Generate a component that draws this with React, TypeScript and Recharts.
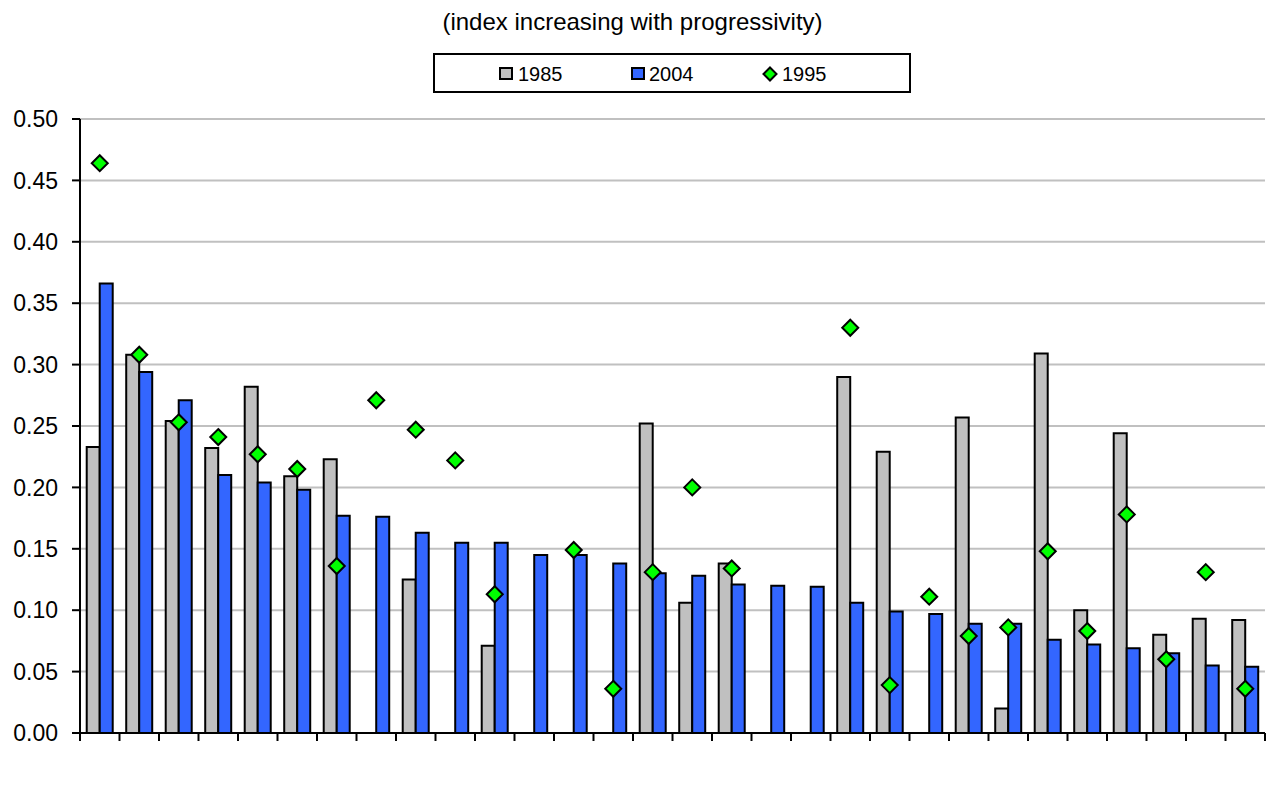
import React from "react";
import {
  ComposedChart,
  Bar,
  Scatter,
  XAxis,
  YAxis,
  CartesianGrid,
} from "recharts";

const categories = [
  "1", "2", "3", "4", "5", "6", "7", "8", "9", "10",
  "11", "12", "13", "14", "15", "16", "17", "18", "19", "20",
  "21", "22", "23", "24", "25", "26", "27", "28", "29", "30",
];

const values1985 = [
  0.233, 0.308, 0.254, 0.232, 0.282, 0.209, 0.223, null, 0.125, null,
  0.071, null, null, null, 0.252, 0.106, 0.138, null, null, 0.29,
  0.229, null, 0.257, 0.02, 0.309, 0.1, 0.244, 0.08, 0.093, 0.092,
];

const values2004 = [
  0.366, 0.294, 0.271, 0.21, 0.204, 0.198, 0.177, 0.176, 0.163, 0.155,
  0.155, 0.145, 0.145, 0.138, 0.13, 0.128, 0.121, 0.12, 0.119, 0.106,
  0.099, 0.097, 0.089, 0.089, 0.076, 0.072, 0.069, 0.065, 0.055, 0.054,
];

const values1995 = [
  0.464, 0.308, 0.253, 0.241, 0.227, 0.215, 0.136, 0.271, 0.247, 0.222,
  0.113, null, 0.149, 0.036, 0.131, 0.2, 0.134, null, null, 0.33,
  0.039, 0.111, 0.079, 0.086, 0.148, 0.083, 0.178, 0.06, 0.131, 0.036,
];

const yTicks = [0, 0.05, 0.1, 0.15, 0.2, 0.25, 0.3, 0.35, 0.4, 0.45, 0.5];

const seriesNames = ["1985", "2004", "1995"];

const data = categories.map((c, i) => ({
  name: c,
  y1985: values1985[i],
  y2004: values2004[i],
  y1995: values1995[i],
}));

const W = 1269;
const H = 811;
const LEFT = 80;
const RIGHT = 4;
const TOP = 119;
const X_AXIS_H = 20;
const BOTTOM = H - 733 - X_AXIS_H;
const BAND = (W - LEFT - RIGHT) / categories.length;
const FONT = "'Liberation Sans', Arial, sans-serif";

// tick marks sit between categories, like a spreadsheet chart
const BoundaryTick = (props: any) => {
  const { x, y, index } = props;
  const left = x - BAND / 2;
  return (
    <g>
      <line x1={left} y1={y} x2={left} y2={y + 8} stroke="#000" strokeWidth={2} />
      {index === categories.length - 1 && (
        <line x1={x + BAND / 2} y1={y} x2={x + BAND / 2} y2={y + 8} stroke="#000" strokeWidth={2} />
      )}
    </g>
  );
};

const Diamond = (props: any) => {
  const { cx, cy, payload } = props;
  if (payload == null || payload.y1995 == null || cy == null) return <g />;
  const r = 8;
  return (
    <path
      d={`M${cx},${cy - r} L${cx + r},${cy} L${cx},${cy + r} L${cx - r},${cy} Z`}
      fill="#00ff00"
      stroke="#000"
      strokeWidth={2}
    />
  );
};

const swatch = (fill: string) => ({
  position: "absolute" as const,
  top: 12,
  width: 10,
  height: 9,
  background: fill,
  border: "2px solid #000",
});

const LegendBox = () => (
  <div
    style={{
      position: "absolute",
      left: 433,
      top: 53,
      width: 474,
      height: 36,
      border: "2px solid #000",
      background: "#fff",
      fontFamily: FONT,
      fontSize: 20,
      color: "#000",
    }}
  >
    <div style={{ ...swatch("#c0c0c0"), left: 64 }} />
    <div style={{ position: "absolute", left: 83, top: 8 }}>{seriesNames[0]}</div>
    <div style={{ ...swatch("#3366ff"), left: 196 }} />
    <div style={{ position: "absolute", left: 214, top: 8 }}>{seriesNames[1]}</div>
    <svg style={{ position: "absolute", left: 327, top: 11 }} width={16} height={16}>
      <path d="M8,1.5 L14.5,8 L8,14.5 L1.5,8 Z" fill="#00ff00" stroke="#000" strokeWidth={2} />
    </svg>
    <div style={{ position: "absolute", left: 347, top: 8 }}>{seriesNames[2]}</div>
  </div>
);

export default function App() {
  return (
    <div style={{ position: "absolute", left: 0, top: 0, width: W, height: H, background: "#fff" }}>
      <div
        style={{
          position: "absolute",
          left: 0,
          top: 8,
          width: 1265,
          textAlign: "center",
          fontFamily: FONT,
          fontSize: 24,
          color: "#000",
        }}
      >
        (index increasing with progressivity)
      </div>
      <LegendBox />
      <ComposedChart
        width={W}
        height={H}
        data={data}
        margin={{ top: TOP, right: RIGHT, bottom: BOTTOM, left: 0 }}
        barCategoryGap="17%"
        barGap={0}
      >
        <CartesianGrid vertical={false} stroke="#c0c0c0" strokeWidth={2} />
        <XAxis
          dataKey="name"
          height={X_AXIS_H}
          axisLine={{ stroke: "#000", strokeWidth: 2 }}
          tickLine={false}
          tickSize={0}
          tickMargin={0}
          tick={<BoundaryTick />}
          interval={0}
        />
        <YAxis
          width={LEFT}
          domain={[0, 0.5]}
          ticks={yTicks}
          interval={0}
          tickFormatter={(v: number) => v.toFixed(2)}
          axisLine={{ stroke: "#000", strokeWidth: 2 }}
          tickLine={{ stroke: "#000", strokeWidth: 2 }}
          tickSize={8}
          tickMargin={14}
          tick={{ fill: "#000", fontSize: 23, fontFamily: FONT }}
        />
        <Bar dataKey="y1985" name={seriesNames[0]} fill="#c0c0c0" stroke="#000" strokeWidth={2} isAnimationActive={false} />
        <Bar dataKey="y2004" name={seriesNames[1]} fill="#3366ff" stroke="#000" strokeWidth={2} isAnimationActive={false} />
        <Scatter dataKey="y1995" name={seriesNames[2]} shape={<Diamond />} isAnimationActive={false} />
      </ComposedChart>
    </div>
  );
}
